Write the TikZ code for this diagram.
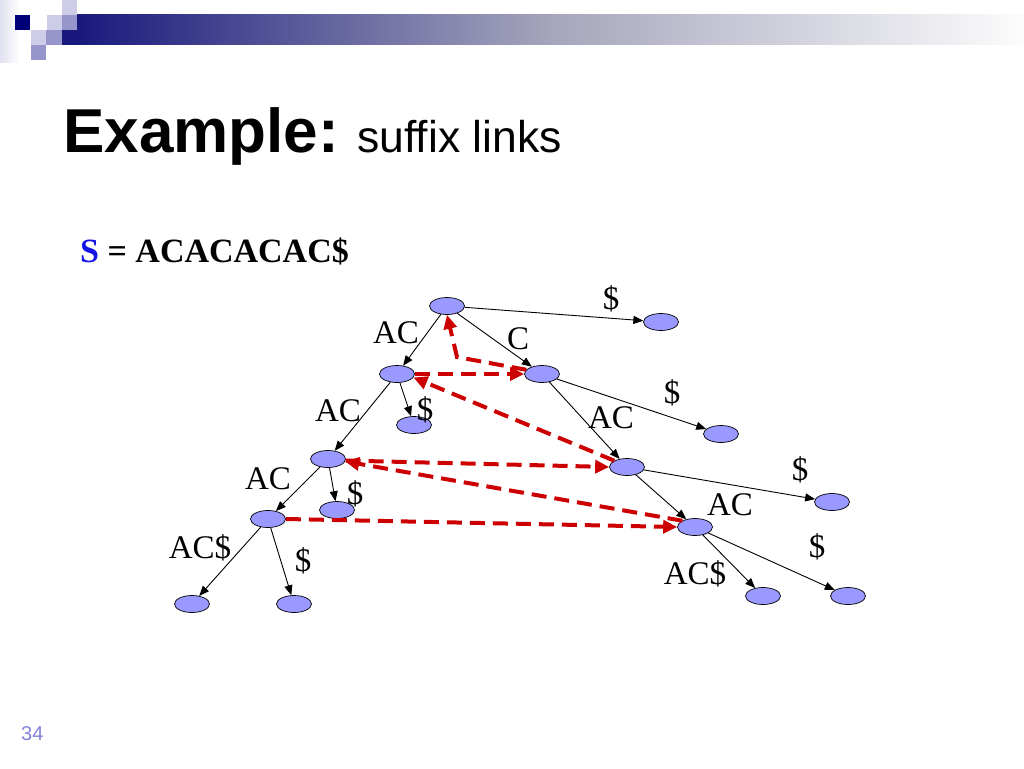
\documentclass[tikz,border=0pt]{standalone}
\usepackage{fontspec}
\setmainfont{Liberation Serif}
\newfontfamily\arialf{Liberation Sans}
\usetikzlibrary{shapes.geometric,arrows.meta}
\definecolor{navy}{RGB}{0,0,120}
\definecolor{bardark}{RGB}{25,25,125}
\definecolor{barmid}{RGB}{165,165,188}
\definecolor{sqlight}{RGB}{205,205,232}
\definecolor{sqmid}{RGB}{150,150,205}
\definecolor{nodefill}{RGB}{153,153,255}
\definecolor{linkred}{RGB}{204,0,0}
\definecolor{sblue}{RGB}{20,20,230}
\definecolor{pagenum}{RGB}{130,130,220}
\tikzset{
  tn/.style={ellipse, draw=black, line width=0.7pt, fill=nodefill, minimum width=35pt, minimum height=17pt, inner sep=0pt},
  tedge/.style={-{Triangle[length=10pt,width=8pt]}, line width=0.9pt},
  slink/.style={draw=linkred, line width=4pt, dash pattern=on 15pt off 8pt, -{Triangle[length=14pt,width=13pt]}},
  lab/.style={font=\fontsize{33}{33}\selectfont, inner sep=0pt}
}
\begin{document}
\begin{tikzpicture}[x=1pt,y=-1pt]
\useasboundingbox (0,0) rectangle (1024,768);
% header decoration
\shade[left color=sqlight!60, right color=white] (0,0) rectangle (20,62);
\shade[left color=bardark, right color=barmid] (77,15) rectangle (550,45);
\shade[left color=barmid, right color=white!97!barmid] (549.5,15) rectangle (1024,45);
\fill[navy] (15,15) rectangle (30,30);
\fill[sqlight] (62,0) rectangle (77,15);
\fill[sqlight] (47,15) rectangle (62,30);
\fill[sqmid] (62,15) rectangle (77,30);
\fill[sqlight] (31,30) rectangle (46,45);
\fill[sqmid] (46,30) rectangle (62,45);
\fill[bardark] (62,30) rectangle (77,45);
\fill[sqmid] (31,45) rectangle (46,60);
% title
\node[anchor=base west, inner sep=0pt, font=\arialf\bfseries\fontsize{62}{62}\selectfont] (title) at (63,152) {Example:};
\node[anchor=base west, inner sep=0pt, font=\arialf\fontsize{44.5}{44.5}\selectfont] (sub) at (357,152) {suffix links};
\node[anchor=base west, inner sep=0pt, font=\bfseries\fontsize{34}{34}\selectfont] (sdef) at (80,262) {\textcolor{sblue}{S} = ACACACAC\$};
\node[anchor=base west, inner sep=0pt, font=\arialf\fontsize{20}{20}\selectfont, text=pagenum] (pg) at (21,740) {34};
% tree nodes
\node[tn] (r) at (447,306) {};
\node[tn] (l1) at (661,322) {};
\node[tn] (a) at (397,374) {};
\node[tn] (c) at (542,374) {};
\node[tn] (l2) at (414,425) {};
\node[tn] (l3) at (721,434) {};
\node[tn] (acac) at (328,459) {};
\node[tn] (cac) at (627,467) {};
\node[tn] (l4) at (337,510) {};
\node[tn] (l5) at (832,502) {};
\node[tn] (acacac) at (268,519) {};
\node[tn] (cacac) at (695,527) {};
\node[tn] (l6) at (192,604) {};
\node[tn] (l7) at (294,604) {};
\node[tn] (l8) at (763,596) {};
\node[tn] (l9) at (848,596) {};
% tree edges
\draw[tedge] (r) -- (l1);
\draw[tedge] (r) -- (a);
\draw[tedge] (r) -- (c);
\draw[tedge] (a) -- (l2);
\draw[tedge] (a) -- (acac);
\draw[tedge] (c) -- (l3);
\draw[tedge] (c) -- (cac);
\draw[tedge] (acac) -- (l4);
\draw[tedge] (acac) -- (acacac);
\draw[tedge] (cac) -- (l5);
\draw[tedge] (cac) -- (cacac);
\draw[tedge] (acacac) -- (l6);
\draw[tedge] (acacac) -- (l7);
\draw[tedge] (cacac) -- (l8);
\draw[tedge] (cacac) -- (l9);
% edge labels
\node[lab] (t1) at (611,299) {\$};
\node[lab] (t2) at (396,333) {AC};
\node[lab] (t3) at (518,339) {C};
\node[lab] (t4) at (672,393) {\$};
\node[lab] (t5) at (338,411) {AC};
\node[lab] (t6) at (425,410) {\$};
\node[lab] (t7) at (611,418) {AC};
\node[lab] (t8) at (268,479) {AC};
\node[lab] (t9) at (355,494) {\$};
\node[lab] (t10) at (800,470) {\$};
\node[lab] (t11) at (730,505) {AC};
\node[lab] (t12) at (200,548) {AC\$};
\node[lab] (t13) at (303,561) {\$};
\node[lab] (t14) at (817,547) {\$};
\node[lab] (t15) at (695,574) {AC\$};
% suffix links
\coordinate (bend) at (457,357);
\draw[slink] (a.east) -- (c.west);
\draw[slink] (c.165) -- (bend) -- (r.south);
\draw[slink] (cac.north west) -- (a.-12);
\draw[slink] (acac.-5) -- (cac.west);
\draw[slink] (cacac.north west) -- (acac.-8);
\draw[slink] (acacac.east) -- (cacac.west);
\end{tikzpicture}
\end{document}
